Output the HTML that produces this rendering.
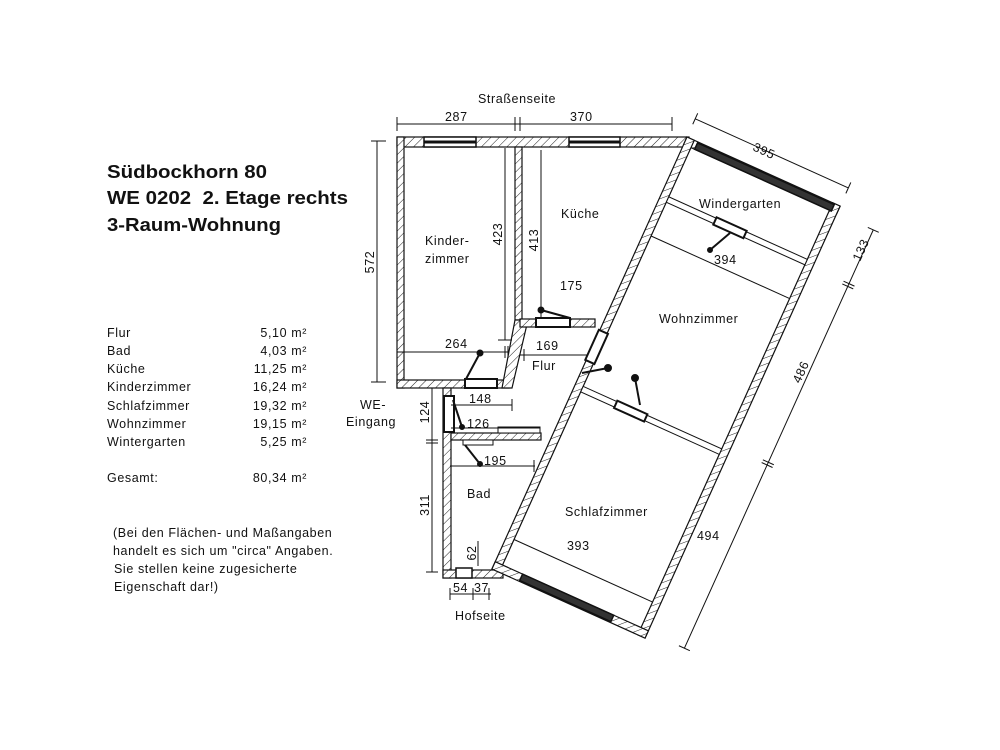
<!DOCTYPE html>
<html><head><meta charset="utf-8"><style>
html,body{margin:0;padding:0;background:#fff;}
svg{display:block;font-family:"Liberation Sans",Arial,sans-serif;}
.t{font-size:12.5px;letter-spacing:0.6px;fill:#111;}
.b{font-size:18px;font-weight:bold;fill:#111;}
</style></head><body>
<svg width="1000" height="750" viewBox="0 0 1000 750" xmlns="http://www.w3.org/2000/svg">
<defs>
<pattern id="h" width="6" height="6" patternUnits="userSpaceOnUse" patternTransform="rotate(45)">
<rect width="6" height="6" fill="#fff"/><line x1="0" y1="0" x2="0" y2="6" stroke="#222" stroke-width="1"/>
</pattern>
</defs>
<rect width="1000" height="750" fill="#fff"/>

<!-- left text -->
<text class="b" x="107" y="178" textLength="160" lengthAdjust="spacingAndGlyphs">Südbockhorn 80</text>
<text class="b" x="107" y="204" textLength="241" lengthAdjust="spacingAndGlyphs" xml:space="preserve">WE 0202  2. Etage rechts</text>
<text class="b" x="107" y="231" textLength="174" lengthAdjust="spacingAndGlyphs">3-Raum-Wohnung</text>
<g class="t">
<text x="107" y="337">Flur</text><text x="307" y="337" text-anchor="end">5,10 m²</text>
<text x="107" y="355">Bad</text><text x="307" y="355" text-anchor="end">4,03 m²</text>
<text x="107" y="373">Küche</text><text x="307" y="373" text-anchor="end">11,25 m²</text>
<text x="107" y="391">Kinderzimmer</text><text x="307" y="391" text-anchor="end">16,24 m²</text>
<text x="107" y="410">Schlafzimmer</text><text x="307" y="410" text-anchor="end">19,32 m²</text>
<text x="107" y="428">Wohnzimmer</text><text x="307" y="428" text-anchor="end">19,15 m²</text>
<text x="107" y="446">Wintergarten</text><text x="307" y="446" text-anchor="end">5,25 m²</text>
<text x="107" y="482">Gesamt:</text><text x="307" y="482" text-anchor="end">80,34 m²</text>
<text x="113" y="537">(Bei den Flächen- und Maßangaben</text>
<text x="113" y="555">handelt es sich um "circa" Angaben.</text>
<text x="114" y="573">Sie stellen keine zugesicherte</text>
<text x="114" y="591">Eigenschaft dar!)</text>
<text x="478" y="103">Straßenseite</text>
<text x="360" y="409">WE-</text>
<text x="346" y="426">Eingang</text>
<text x="455" y="620">Hofseite</text>
</g>

<!-- left walls -->
<g stroke="#111" stroke-width="1.2" fill="url(#h)">
<rect x="397" y="137" width="292" height="10"/>
<rect x="397" y="137" width="7" height="251"/>
<rect x="397" y="380" width="112" height="8"/>
<rect x="515" y="147" width="7" height="173"/>
<polygon points="515,320 528,320 512,388 502,388"/>
<rect x="520" y="319" width="75" height="8"/>
<rect x="443" y="388" width="8" height="190"/>
<rect x="451" y="433" width="90" height="7"/>
<rect x="443" y="570" width="60" height="8"/>
</g>
<!-- windows top -->
<g stroke="#111" fill="#fff">
<rect x="424" y="137" width="52" height="10" stroke-width="1.5"/><line x1="424" y1="142" x2="476" y2="142" stroke-width="3"/>
<rect x="569" y="137" width="51" height="10" stroke-width="1.5"/><line x1="569" y1="142" x2="620" y2="142" stroke-width="3"/>
<rect x="465" y="379" width="32" height="9" stroke-width="2"/>
<rect x="536" y="318" width="34" height="9" stroke-width="2"/>
<rect x="444" y="396" width="10" height="36" stroke-width="2"/>
<rect x="498" y="427" width="42" height="6" stroke-width="1"/>
<rect x="456" y="568" width="16" height="10" stroke-width="1.5"/>
<rect x="463" y="440" width="30" height="5" stroke-width="1"/>
</g>
<!-- door swings -->
<g stroke="#111" stroke-width="2" fill="#111">
<line x1="466" y1="379" x2="480" y2="353"/><circle cx="480" cy="353" r="2.5"/>
<line x1="570" y1="318" x2="541" y2="310"/><circle cx="541" cy="310" r="2.5"/>
<line x1="453" y1="400" x2="462" y2="427"/><circle cx="462" cy="427" r="2"/>
<line x1="465" y1="445" x2="480" y2="464"/><circle cx="480" cy="464" r="2"/>
</g>

<!-- left dims -->
<g stroke="#111" stroke-width="1" fill="none">
<line x1="397" y1="124" x2="672" y2="124"/>
<line x1="397" y1="117" x2="397" y2="131"/><line x1="515" y1="117" x2="515" y2="131"/><line x1="520" y1="117" x2="520" y2="131"/><line x1="672" y1="117" x2="672" y2="131"/>
<line x1="377" y1="141" x2="377" y2="382"/><line x1="371" y1="141" x2="386" y2="141"/><line x1="371" y1="382" x2="386" y2="382"/>
<line x1="505" y1="148" x2="505" y2="340"/><line x1="498" y1="340" x2="512" y2="340"/>
<line x1="541" y1="150" x2="541" y2="318"/>
<line x1="397" y1="352" x2="508" y2="352"/><line x1="505" y1="346" x2="505" y2="358"/><line x1="508" y1="346" x2="508" y2="358"/>
<line x1="520" y1="355" x2="590" y2="355"/><line x1="524" y1="349" x2="524" y2="361"/>
<line x1="451" y1="405" x2="512" y2="405"/><line x1="512" y1="399" x2="512" y2="411"/>
<line x1="451" y1="428" x2="540" y2="428"/>
<line x1="450" y1="466" x2="535" y2="466"/><line x1="534" y1="460" x2="534" y2="472"/>
<line x1="432" y1="388" x2="432" y2="572"/><line x1="426" y1="440" x2="438" y2="440"/><line x1="426" y1="443" x2="438" y2="443"/><line x1="426" y1="572" x2="438" y2="572"/>
<line x1="450" y1="594" x2="491" y2="594"/><line x1="450" y1="588" x2="450" y2="600"/><line x1="473" y1="588" x2="473" y2="600"/><line x1="489" y1="588" x2="489" y2="600"/>
<line x1="478" y1="541" x2="478" y2="566"/>
</g>
<g class="t">
<text x="445" y="121">287</text><text x="570" y="121">370</text>
<text transform="translate(374,262) rotate(-90)" text-anchor="middle">572</text>
<text transform="translate(502,234) rotate(-90)" text-anchor="middle">423</text>
<text transform="translate(538,240) rotate(-90)" text-anchor="middle">413</text>
<text x="560" y="290">175</text>
<text x="445" y="348">264</text><text x="536" y="350">169</text>
<text x="532" y="370">Flur</text>
<text x="469" y="403">148</text><text x="467" y="428">126</text><text x="484" y="465">195</text>
<text transform="translate(429,412) rotate(-90)" text-anchor="middle">124</text>
<text transform="translate(429,505) rotate(-90)" text-anchor="middle">311</text>
<text transform="translate(476,553) rotate(-90)" text-anchor="middle">62</text>
<text x="453" y="592">54</text><text x="474" y="592">37</text>
<text x="425" y="245">Kinder-</text><text x="425" y="263">zimmer</text>
<text x="561" y="218">Küche</text>
<text x="467" y="498">Bad</text>
</g>

<!-- rotated block -->
<g transform="translate(687,137) rotate(24.3)" stroke="#111" stroke-width="1.2">
<g fill="url(#h)">
<rect x="0" y="0" width="168" height="8"/>
<rect x="0" y="0" width="8" height="474"/>
<rect x="160" y="0" width="8" height="474"/>
<rect x="0" y="466" width="168" height="8"/>
</g>
<rect x="8" y="62" width="152" height="6" fill="#fff" stroke-width="1"/>
<rect x="8" y="270" width="152" height="6" fill="#fff" stroke-width="1"/>
<rect x="12" y="1" width="150" height="7" fill="#333" stroke-width="1.5"/>
<rect x="30" y="466" width="100" height="7" fill="#333" stroke-width="1.5"/>
<rect x="60" y="61" width="33" height="8" fill="#fff" stroke-width="2"/>
<rect x="45" y="269" width="33" height="8" fill="#fff" stroke-width="2"/>
<rect x="-1" y="212" width="10" height="33" fill="#fff" stroke-width="2"/>
<g stroke-width="1" fill="none">
<line x1="0" y1="-20" x2="168" y2="-20"/><line x1="0" y1="-26" x2="0" y2="-14"/><line x1="168" y1="-26" x2="168" y2="-14"/>
<line x1="8" y1="105" x2="160" y2="105"/>
<line x1="8" y1="438" x2="160" y2="438"/>
<line x1="208" y1="8" x2="208" y2="467"/>
<line x1="202" y1="8" x2="214" y2="8"/><line x1="202" y1="67" x2="214" y2="67"/><line x1="202" y1="70" x2="214" y2="70"/>
<line x1="202" y1="263" x2="214" y2="263"/><line x1="202" y1="266" x2="214" y2="266"/><line x1="202" y1="467" x2="214" y2="467"/>
</g>
</g>
<g stroke="#111" stroke-width="2" fill="#111">
<line x1="730" y1="233" x2="710" y2="250"/><circle cx="710" cy="250" r="2"/>
<line x1="640" y1="405" x2="635" y2="378"/><circle cx="635" cy="378" r="3"/>
<line x1="582" y1="373" x2="608" y2="368"/><circle cx="608" cy="368" r="3"/>
</g>
<g class="t">
<text transform="translate(752,150) rotate(24.3)">395</text>
<text x="699" y="208">Windergarten</text>
<text x="714" y="264">394</text>
<text x="659" y="323">Wohnzimmer</text>
<text x="565" y="516">Schlafzimmer</text>
<text x="567" y="550">393</text>
<text x="697" y="540">494</text>
<text transform="translate(860,262) rotate(-65.7)">133</text>
<text transform="translate(800,384) rotate(-65.7)">486</text>
</g>
</svg>
</body></html>
